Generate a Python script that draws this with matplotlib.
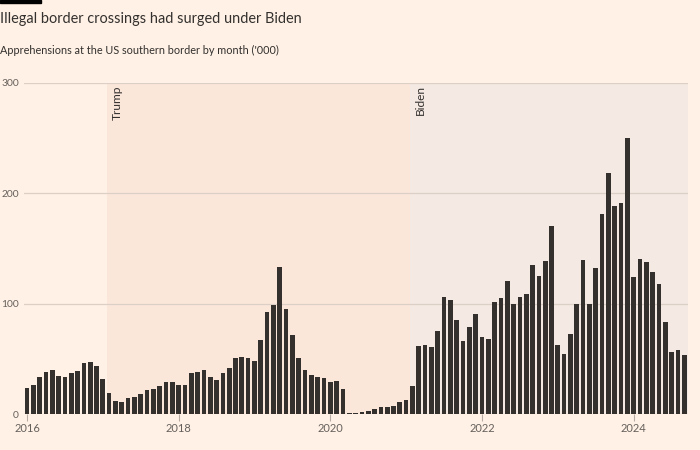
import matplotlib
matplotlib.use("Agg")
import matplotlib.pyplot as plt
from matplotlib.patches import Rectangle
import numpy as np

plt.rcParams['font.family'] = ['Lato', 'DejaVu Sans']

# Monthly apprehensions ('000), Jan 2016 - Sep 2024
values = [
    # 2016
    23.8, 26.2, 33.5, 38.0, 40.4, 34.7, 33.8, 37.1, 39.5, 46.1, 47.3, 43.4,
    # 2017
    31.7, 19.3, 12.4, 11.2, 14.5, 16.0, 18.4, 22.3, 22.6, 25.6, 28.9, 28.9,
    # 2018
    26.2, 26.8, 37.4, 38.3, 40.4, 34.1, 31.4, 37.7, 41.6, 51.0, 51.9, 51.0,
    # 2019
    48.2, 66.9, 92.9, 99.2, 133.0, 95.0, 71.8, 50.6, 40.4, 35.3, 33.5, 32.6,
    # 2020
    29.2, 29.8, 23.2, 1.2, 1.5, 2.4, 3.3, 4.5, 6.3, 6.3, 7.8, 10.9,
    # 2021
    12.7, 25.3, 62.1, 62.7, 61.2, 75.7, 106.4, 103.4, 85.0, 66.3, 79.3, 90.7,
    # 2022
    70.2, 68.1, 101.6, 104.9, 120.6, 99.5, 105.8, 108.8, 135.1, 125.1, 138.7, 170.6,
    # 2023
    63.0, 54.3, 72.7, 99.8, 139.6, 99.5, 132.3, 180.9, 218.6, 188.7, 191.1, 249.6,
    # 2024
    124.2, 140.5, 137.5, 128.7, 117.9, 83.5, 56.4, 57.9, 53.7,
]
start_year = 2016
year_ticks = [2016, 2018, 2020, 2022, 2024]
y_ticks = [0, 100, 200, 300]
# Presidential terms (start year, month, day)
terms = [("Trump", 2017, 1, 20), ("Biden", 2021, 1, 20)]
title = "Illegal border crossings had surged under Biden"
subtitle = "Apprehensions at the US southern border by month ('000)"

BG = "#FFF1E5"
TERM_COLORS = ["#FBE6DA", "#F4E9E3"]
BAR = "#33302E"
GRID = "#DCCFC6"
TEXT = "#33302E"
MUTED = "#66605C"

fig = plt.figure(figsize=(7, 4.5), dpi=100, facecolor=BG)
ax = fig.add_axes([24/700, 1 - 414.3/450, 664/700, (414.3 - 82.7)/450])
ax.set_facecolor(BG)

x = np.arange(len(values))
xmin, xmax = -0.47, 104.6
ax.set_xlim(xmin, xmax)
ax.set_ylim(0, 300)

# Term shading
def month_pos(y, m, d):
    return (y - start_year) * 12 + (m - 1) + (d - 1) / 31

starts = [month_pos(y, m, d) for _, y, m, d in terms]
ends = starts[1:] + [xmax]
for (name, *_), s, e, c in zip(terms, starts, ends, TERM_COLORS):
    ax.axvspan(s, e, color=c, zorder=0, lw=0)
    ax.text(s + 0.8, 297.5, name, rotation=90, ha="left", va="top",
            fontsize=8.6, color=TEXT, zorder=3)

for yt in y_ticks:
    ax.axhline(yt, color=GRID, lw=0.9, zorder=1)

ax.bar(x, values, width=0.74, color=BAR, zorder=2, lw=0)

for s in ax.spines.values():
    s.set_visible(False)

ax.set_yticks(y_ticks)
ax.set_yticklabels([str(v) for v in y_ticks])
ax.tick_params(axis="y", length=0, pad=3.6, labelsize=7.4, labelcolor=MUTED)
xt = [(yr - start_year) * 12 for yr in year_ticks]
ax.set_xticks(xt)
ax.set_xticklabels([str(v) for v in year_ticks])
ax.tick_params(axis="x", length=5, width=0.8, color="#B8ADA5", pad=1.5,
               labelsize=8, labelcolor=MUTED)

fig.text(0.0, 1 - 18.5/450, title, fontsize=10.45, color=TEXT, va="center", ha="left")
fig.text(0.0, 1 - 50.5/450, subtitle, fontsize=7.85, color=TEXT, va="center", ha="left")
fig.patches.append(Rectangle((0, 1 - 3/450), 41/700, 3/450, transform=fig.transFigure,
                             color="black", zorder=5))

fig.savefig("out.png", dpi=100, facecolor=BG)
